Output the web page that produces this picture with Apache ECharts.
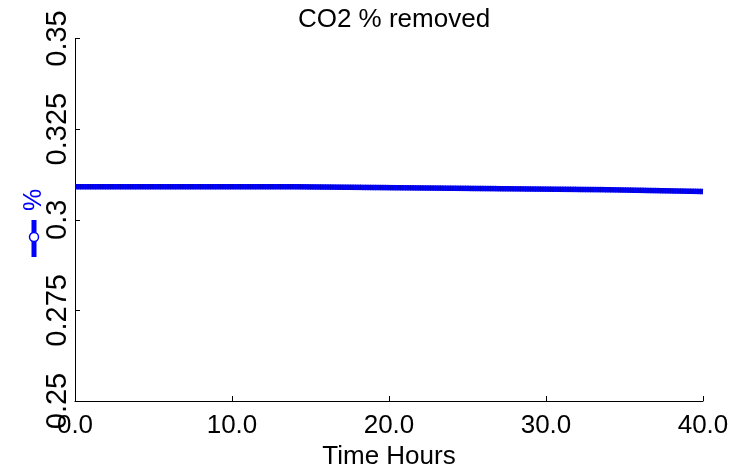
<!DOCTYPE html>
<html>
<head>
<meta charset="utf-8">
<script src="https://cdn.jsdelivr.net/npm/echarts@6/dist/echarts.min.js"></script>
<style>html,body{margin:0;padding:0;background:#fff}#c{width:729px;height:468px}</style>
</head>
<body>
<div id="c"></div>
<script>
const titleText = 'CO2 % removed';
const xAxisName = 'Time Hours';
const legendLabel = '%';
const timeHours = [0, 14, 14, 24, 24, 34, 34, 40];
const co2Removed = [0.3091, 0.3091, 0.3087, 0.3087, 0.3083, 0.3083, 0.3078, 0.3078];
const xTicks = [0, 10, 20, 30, 40];
const yTicks = [0.25, 0.275, 0.3, 0.325, 0.35];

const FONT = "'Liberation Sans', Arial, sans-serif";
const pts = timeHours.map((t, i) => [t, co2Removed[i]]);
const chart = echarts.init(document.getElementById('c'), null, {renderer: 'canvas'});
chart.setOption({
  animation: false,
  backgroundColor: '#fff',
  title: {
    text: titleText, left: 389, top: 2, textAlign: 'center',
    textStyle: {fontFamily: FONT, fontSize: 26, fontWeight: 'normal', color: '#000'}
  },
  grid: {left: 75, right: 26, top: 38.5, bottom: 67, containLabel: false, outerBoundsMode: 'none'},
  xAxis: {
    type: 'value', min: xTicks[0], max: xTicks[xTicks.length - 1], interval: 10,
    name: xAxisName, nameLocation: 'middle', nameGap: 40,
    nameTextStyle: {fontFamily: FONT, fontSize: 26, color: '#000'},
    axisLine: {show: true, lineStyle: {color: '#000', width: 1}},
    axisTick: {show: true, inside: true, length: 5, lineStyle: {color: '#000'}},
    axisLabel: {fontFamily: FONT, fontSize: 26, color: '#000', margin: 12,
      hideOverlap: false, formatter: v => v.toFixed(1)},
    splitLine: {show: false}
  },
  yAxis: {
    type: 'value', min: yTicks[0], max: yTicks[yTicks.length - 1], interval: 0.025,
    axisLine: {show: true, lineStyle: {color: '#000', width: 1}},
    axisTick: {show: true, inside: true, length: 5, lineStyle: {color: '#000'}},
    axisLabel: {fontFamily: FONT, fontSize: 29, color: '#000', rotate: 90, margin: 3,
      hideOverlap: false, formatter: v => String(parseFloat(v.toFixed(3)))},
    splitLine: {show: false}
  },
  graphic: [{
    type: 'group', x: 34, y: 228, rotation: Math.PI / 2,
    children: [
      {type: 'line', shape: {x1: -29, y1: 0, x2: 8, y2: 0}, style: {stroke: '#0000ff', lineWidth: 5}},
      {type: 'circle', shape: {cx: -9, cy: 0, r: 4.5}, style: {fill: '#fff', stroke: '#0000ff', lineWidth: 1.5}},
      {type: 'text', x: 28, y: 0, style: {text: legendLabel, font: '25px ' + FONT, fill: '#0000ff', align: 'center', verticalAlign: 'middle'}}
    ]
  }],
  series: [{
    type: 'line', data: pts, showSymbol: false, z: 2,
    lineStyle: {color: '#0000ff', width: 5.5}
  }, {
    type: 'line', data: pts, showSymbol: false, z: 3,
    lineStyle: {color: '#0000b8', width: 5.5, type: [1, 1.5], opacity: 0.7}
  }]
});
</script>
</body>
</html>
